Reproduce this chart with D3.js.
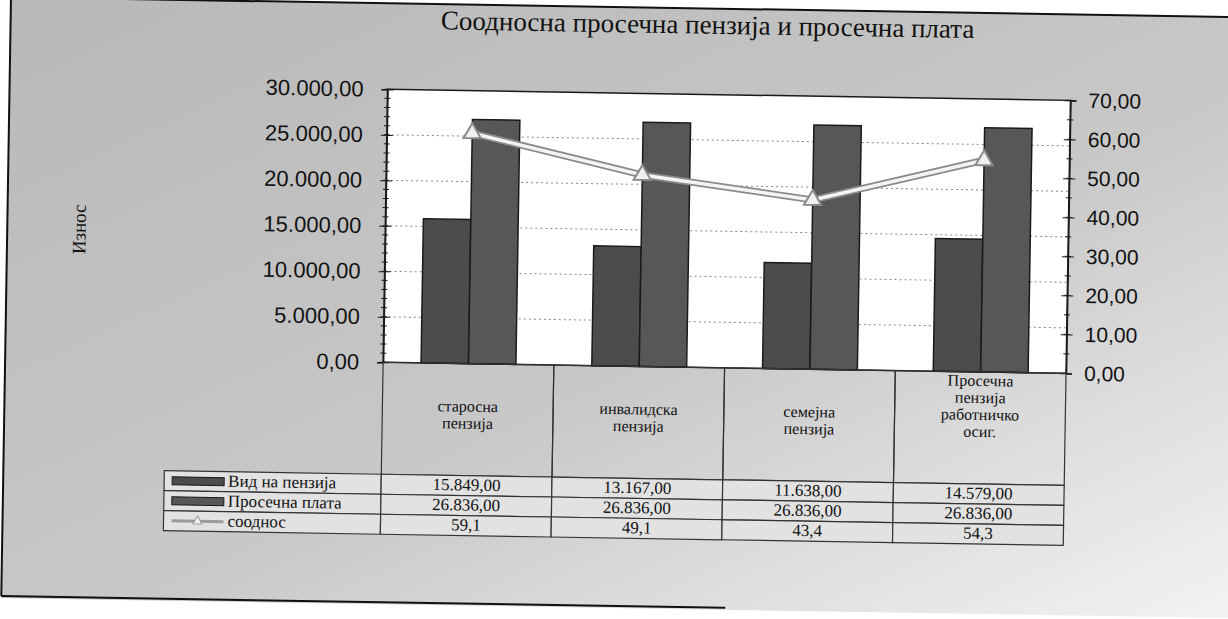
<!DOCTYPE html>
<html>
<head>
<meta charset="utf-8">
<script src="https://cdn.jsdelivr.net/npm/d3@7"></script>
<style>
body{margin:0;background:#fff;}
svg{display:block;}
text{font-family:"Liberation Serif",serif;fill:#111;}
</style>
</head>
<body>
<svg id="chart" width="1228" height="619"></svg>
<script>
var categoryLines = [["старосна","пензија"],["инвалидска","пензија"],["семејна","пензија"],["Просечна","пензија","работничко","осиг."]];
var categories = categoryLines.map(function(l){return l.join(" ")});
var pension = [15849, 13167, 11638, 14579];
var salary = [26836, 26836, 26836, 26836];
var ratio = [59.1, 49.1, 43.4, 54.3];
var seriesNames = ["Вид на пензија", "Просечна плата", "сооднос"];
var leftTicks = [0, 5000, 10000, 15000, 20000, 25000, 30000];
var rightTicks = [0, 10, 20, 30, 40, 50, 60, 70];

var plot = {left:384, right:1067, top:93, bottom:366};
var rowTop = 478, rowH = 20, legendLeft = 167;

var loc = d3.formatLocale({decimal:",", thousands:".", grouping:[3], currency:["",""]});
var fmt2 = loc.format(",.2f");
var fmt1 = loc.format(",.1f");

var svg = d3.select("#chart");
var defs = svg.append("defs");
var grad = defs.append("linearGradient").attr("id","paper")
	.attr("x1",0).attr("y1",0).attr("x2",1).attr("y2",1);
grad.append("stop").attr("offset","0%").attr("stop-color","#b8b8b8");
grad.append("stop").attr("offset","55%").attr("stop-color","#c8c8c8");
grad.append("stop").attr("offset","100%").attr("stop-color","#f4f4f4");

// the scan is tilted a little
var g = svg.append("g").attr("transform","rotate(0.93,614,310)");

g.append("rect")
	.attr("x",6).attr("y",7).attr("width",1260).attr("height",601)
	.attr("fill","url(#paper)");
g.append("line").attr("x1",6).attr("y1",7).attr("x2",1266).attr("y2",7)
	.attr("stroke","#111").attr("stroke-width",2);
g.append("line").attr("x1",6).attr("y1",7).attr("x2",6).attr("y2",606)
	.attr("stroke","#111").attr("stroke-width",2);
g.append("line").attr("x1",6).attr("y1",606).attr("x2",730).attr("y2",606)
	.attr("stroke","#111").attr("stroke-width",2);

g.append("text")
	.attr("x",703).attr("y",26)
	.attr("text-anchor","middle").attr("dominant-baseline","middle")
	.style("font-size","27px")
	.text("Соодносна просечна пензија и просечна плата");

g.append("text")
	.attr("transform","translate(80,238) rotate(-90)")
	.attr("text-anchor","middle").attr("dominant-baseline","middle")
	.style("font-size","19px")
	.text("Износ");

var x = d3.scaleBand().domain(categories).range([plot.left, plot.right]);
var xs = d3.scaleBand().domain([0,1]).range([0, x.bandwidth()]).paddingInner(0).paddingOuter(0.8);
var yL = d3.scaleLinear().domain([0,30000]).range([plot.bottom, plot.top]);
var yR = d3.scaleLinear().domain([0,70]).range([plot.bottom, plot.top]);

g.append("rect")
	.attr("x",plot.left).attr("y",plot.top)
	.attr("width",plot.right-plot.left).attr("height",plot.bottom-plot.top)
	.attr("fill","#fff");

g.selectAll(".grid").data(leftTicks.slice(1,-1)).enter().append("line")
	.attr("class","grid")
	.attr("x1",plot.left).attr("x2",plot.right)
	.attr("y1",function(d){return yL(d)}).attr("y2",function(d){return yL(d)})
	.attr("stroke","#888").attr("stroke-width",1).attr("stroke-dasharray","2,3");

var barSeries = [
	{name:seriesNames[0], values:pension, color:"#4c4c4c"},
	{name:seriesNames[1], values:salary, color:"#575757"}
];

barSeries.forEach(function(s,si){
	g.selectAll(".bar"+si).data(s.values).enter().append("rect")
		.attr("class","bar"+si)
		.attr("x",function(d,i){return x(categories[i])+xs(si)})
		.attr("width",xs.bandwidth())
		.attr("y",function(d){return yL(d)})
		.attr("height",function(d){return yL(0)-yL(d)})
		.attr("fill",s.color)
		.attr("stroke","#1a1a1a").attr("stroke-width",1.5);
});

g.append("rect")
	.attr("x",plot.left).attr("y",plot.top)
	.attr("width",plot.right-plot.left).attr("height",plot.bottom-plot.top)
	.attr("fill","none").attr("stroke","#1a1a1a").attr("stroke-width",1.5);

var line = d3.line()
	.x(function(d,i){return x(categories[i])+x.bandwidth()/2})
	.y(function(d){return yR(d)});

g.append("path").datum(ratio).attr("d",line)
	.attr("fill","none").attr("stroke","#8a8a8a").attr("stroke-width",7);
g.append("path").datum(ratio).attr("d",line)
	.attr("fill","none").attr("stroke","#f4f4f4").attr("stroke-width",3.5);

g.selectAll(".mark").data(ratio).enter().append("path")
	.attr("class","mark")
	.attr("transform",function(d,i){return "translate("+(x(categories[i])+x.bandwidth()/2)+","+yR(d)+")"})
	.attr("d",d3.symbol(d3.symbolTriangle).size(130))
	.attr("fill","#f0f0f0").attr("stroke","#8a8a8a").attr("stroke-width",2);

// axes
var leftAxis = g.append("g").attr("transform","translate("+plot.left+",0)")
	.call(d3.axisLeft(yL).tickValues(leftTicks).tickFormat(fmt2).tickSize(6).tickPadding(18));
var rightAxis = g.append("g").attr("transform","translate("+plot.right+",0)")
	.call(d3.axisRight(yR).tickValues(rightTicks).tickFormat(fmt2).tickSize(6).tickPadding(12));
[leftAxis,rightAxis].forEach(function(a,ai){
	a.select(".domain").attr("stroke","#1a1a1a").attr("stroke-width",1.5);
	a.selectAll(".tick line").attr("stroke","#1a1a1a").attr("x1",function(){return -d3.select(this).attr("x2")});
	a.selectAll(".tick text").style("font-size",ai==0?"22px":"21px").style("font-family","'Liberation Sans',Arial,sans-serif").attr("fill","#111");
});
g.selectAll(".minorL").data(d3.range(0,30001,1000)).enter().append("line")
	.attr("class","minorL")
	.attr("x1",plot.left-3).attr("x2",plot.left+3)
	.attr("y1",function(d){return yL(d)}).attr("y2",function(d){return yL(d)})
	.attr("stroke","#1a1a1a");
g.selectAll(".minorR").data(d3.range(0,71,5)).enter().append("line")
	.attr("class","minorR")
	.attr("x1",plot.right-3).attr("x2",plot.right+3)
	.attr("y1",function(d){return yR(d)}).attr("y2",function(d){return yR(d)})
	.attr("stroke","#1a1a1a");

// data table
g.selectAll(".hcell").data(categories).enter().append("rect")
	.attr("class","hcell")
	.attr("x",function(d){return x(d)}).attr("y",plot.bottom)
	.attr("width",x.bandwidth()).attr("height",rowTop-plot.bottom)
	.attr("fill","none").attr("stroke","#333").attr("stroke-width",1.2);

g.selectAll(".hlabel").data(categoryLines).enter().append("text")
	.attr("class","hlabel")
	.attr("text-anchor","middle")
	.style("font-size","16px")
	.each(function(lines,i){
		var t = d3.select(this);
		var last = 431;
		lines.forEach(function(l,k){
			t.append("tspan").attr("x",x(categories[i])+x.bandwidth()/2)
				.attr("y",last-(lines.length-1-k)*17).text(l);
		});
	});

var rows = [
	{name:seriesNames[0], values:pension.map(fmt2), key:"bar", color:"#4c4c4c"},
	{name:seriesNames[1], values:salary.map(fmt2), key:"bar", color:"#575757"},
	{name:seriesNames[2], values:ratio.map(fmt1), key:"line"}
];

rows.forEach(function(r,ri){
	var y0 = rowTop + ri*rowH;
	g.append("rect")
		.attr("x",legendLeft).attr("y",y0)
		.attr("width",plot.left-legendLeft).attr("height",rowH)
		.attr("fill","#e2e2e2").attr("stroke","#333").attr("stroke-width",1.2);
	if(r.key=="bar"){
		g.append("rect")
			.attr("x",legendLeft+8).attr("y",y0+rowH/2-4)
			.attr("width",52).attr("height",8)
			.attr("fill",r.color).attr("stroke","#1a1a1a");
	}else{
		g.append("line")
			.attr("x1",legendLeft+8).attr("x2",legendLeft+60)
			.attr("y1",y0+rowH/2).attr("y2",y0+rowH/2)
			.attr("stroke","#9a9a9a").attr("stroke-width",3);
		g.append("path")
			.attr("transform","translate("+(legendLeft+34)+","+(y0+rowH/2)+")")
			.attr("d",d3.symbol(d3.symbolTriangle).size(35))
			.attr("fill","#f0f0f0").attr("stroke","#9a9a9a");
	}
	g.append("text")
		.attr("x",legendLeft+64).attr("y",y0+rowH/2+1)
		.attr("dominant-baseline","middle")
		.style("font-size","17px")
		.text(r.name);
	g.selectAll(".cell"+ri).data(r.values).enter().append("rect")
		.attr("class","cell"+ri)
		.attr("x",function(d,i){return x(categories[i])}).attr("y",y0)
		.attr("width",x.bandwidth()).attr("height",rowH)
		.attr("fill","#e2e2e2").attr("stroke","#333").attr("stroke-width",1.2);
	g.selectAll(".val"+ri).data(r.values).enter().append("text")
		.attr("class","val"+ri)
		.attr("x",function(d,i){return x(categories[i])+x.bandwidth()/2}).attr("y",y0+rowH/2+1)
		.attr("text-anchor","middle").attr("dominant-baseline","middle")
		.style("font-size","17px")
		.text(function(d){return d});
});
</script>
</body>
</html>
